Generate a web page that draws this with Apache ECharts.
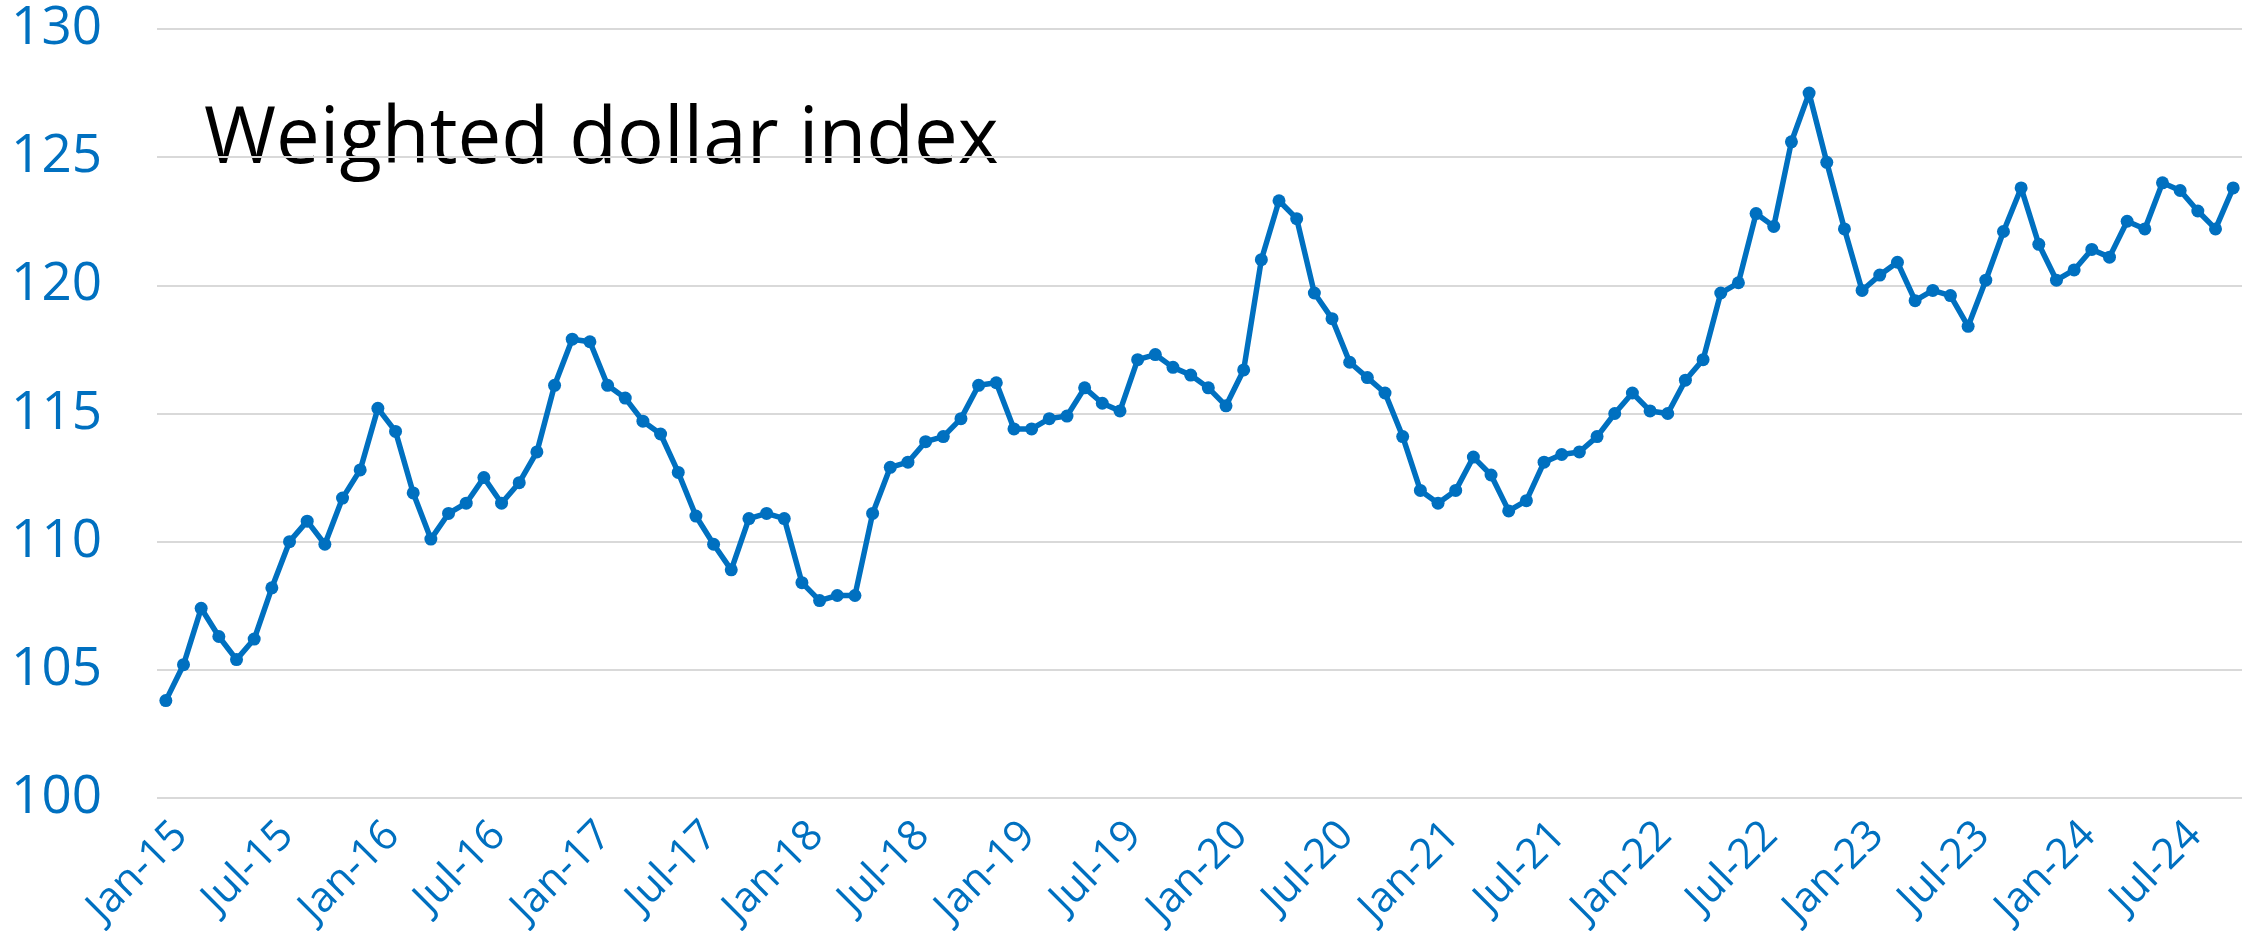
<!DOCTYPE html>
<html lang="en">
<head>
<meta charset="UTF-8">
<title>Weighted dollar index</title>
<script src="https://cdn.jsdelivr.net/npm/echarts@6/dist/echarts.min.js"></script>
<style>
  html, body { margin: 0; padding: 0; background: #fff; }
  #chart { width: 2243px; height: 951px; }
</style>
</head>
<body>
<div id="chart"></div>
<script>
// month labels, built as "Jan-15", "Feb-15", ...
var months = ['Jan', 'Feb', 'Mar', 'Apr', 'May', 'Jun', 'Jul', 'Aug', 'Sep', 'Oct', 'Nov', 'Dec'];
var years = ['15', '16', '17', '18', '19', '20', '21', '22', '23', '24'];

// index values, one array per year
var v2015 = [103.8, 105.2, 107.4, 106.3, 105.4, 106.2, 108.2, 110.0, 110.8, 109.9, 111.7, 112.8];
var v2016 = [115.2, 114.3, 111.9, 110.1, 111.1, 111.5, 112.5, 111.5, 112.3, 113.5, 116.1, 117.9];
var v2017 = [117.8, 116.1, 115.6, 114.7, 114.2, 112.7, 111.0, 109.9, 108.9, 110.9, 111.1, 110.9];
var v2018 = [108.4, 107.7, 107.9, 107.9, 111.1, 112.9, 113.1, 113.9, 114.1, 114.8, 116.1, 116.2];
var v2019 = [114.4, 114.4, 114.8, 114.9, 116.0, 115.4, 115.1, 117.1, 117.3, 116.8, 116.5, 116.0];
var v2020 = [115.3, 116.7, 121.0, 123.3, 122.6, 119.7, 118.7, 117.0, 116.4, 115.8, 114.1, 112.0];
var v2021 = [111.5, 112.0, 113.3, 112.6, 111.2, 111.6, 113.1, 113.4, 113.5, 114.1, 115.0, 115.8];
var v2022 = [115.1, 115.0, 116.3, 117.1, 119.7, 120.1, 122.8, 122.3, 125.6, 127.5, 124.8, 122.2];
var v2023 = [119.8, 120.4, 120.9, 119.4, 119.8, 119.6, 118.4, 120.2, 122.1, 123.8, 121.6, 120.2];
var v2024 = [120.6, 121.4, 121.1, 122.5, 122.2, 124.0, 123.7, 122.9, 122.2, 123.8];

var values = [].concat(v2015, v2016, v2017, v2018, v2019, v2020, v2021, v2022, v2023, v2024);

var categories = [];
years.forEach(function (y) {
  months.forEach(function (m) {
    if (categories.length < values.length) categories.push(m + '-' + y);
  });
});

var blue = '#0070C0';
var font = '"Open Sans", "Noto Sans", sans-serif';

var chart = echarts.init(document.getElementById('chart'), null, { renderer: 'canvas' });
chart.setOption({
  backgroundColor: '#fff',
  animation: false,
  grid: { left: 157, right: 1, top: 29, bottom: 153 },
  graphic: [{
    type: 'text',
    left: 204,
    top: 102,
    style: { text: 'Weighted dollar index', font: '78px ' + font, fill: '#000' }
  }],
  xAxis: {
    type: 'category',
    data: categories,
    boundaryGap: true,
    axisLine: { show: false },
    axisTick: { show: false },
    axisLabel: {
      interval: 5,
      rotate: 45,
      margin: 16,
      verticalAlign: 'top',
      color: blue,
      fontSize: 42,
      fontFamily: font
    }
  },
  yAxis: {
    type: 'value',
    min: 100,
    max: 130,
    interval: 5,
    axisLine: { show: false },
    axisTick: { show: false },
    splitLine: { lineStyle: { color: '#D9D9D9', width: 2 } },
    axisLabel: {
      margin: 55,
      color: blue,
      fontSize: 53,
      fontFamily: font
    }
  },
  series: [{
    type: 'line',
    data: values,
    symbol: 'circle',
    symbolSize: 13,
    showAllSymbol: true,
    lineStyle: { color: blue, width: 5.5 },
    itemStyle: { color: blue }
  }]
});
</script>
</body>
</html>
